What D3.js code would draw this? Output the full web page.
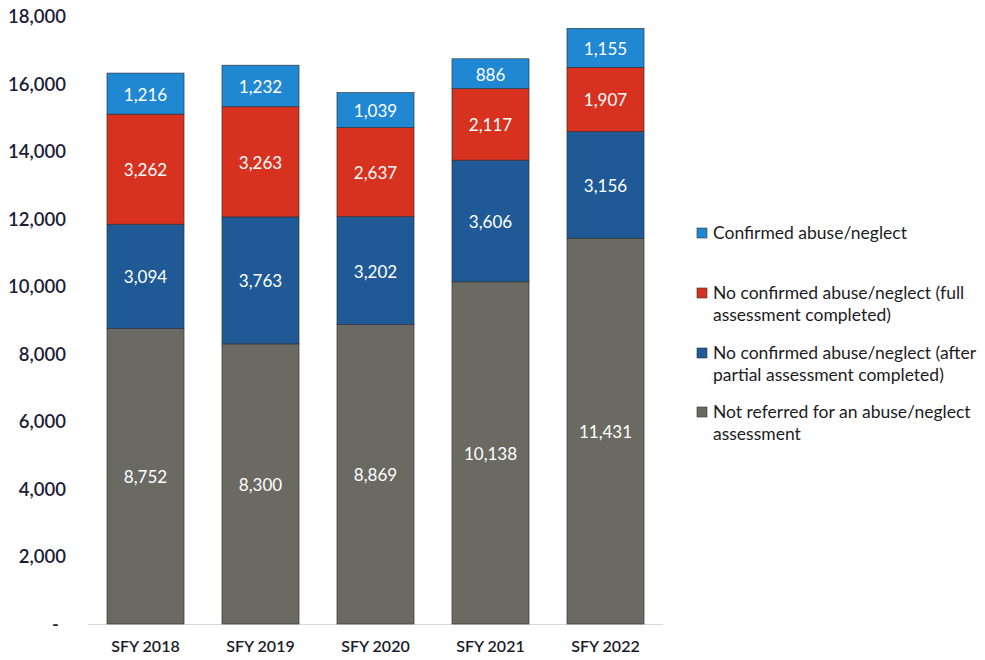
<!DOCTYPE html>
<html>
<head>
<meta charset="utf-8">
<script src="https://cdn.jsdelivr.net/npm/d3@7/dist/d3.min.js"></script>
<style>
  html, body { margin: 0; padding: 0; background: #fff; }
  svg { display: block; }
</style>
</head>
<body>
<svg id="chart" width="985" height="660"></svg>
<script>
const categories = ["SFY 2018", "SFY 2019", "SFY 2020", "SFY 2021", "SFY 2022"];
const seriesNames = [
  "Not referred for an abuse/neglect assessment",
  "No confirmed abuse/neglect (after partial assessment completed)",
  "No confirmed abuse/neglect (full assessment completed)",
  "Confirmed abuse/neglect"
];
const notReferred = [8752, 8300, 8869, 10138, 11431];
const partialAssessment = [3094, 3763, 3202, 3606, 3156];
const fullAssessment = [3262, 3263, 2637, 2117, 1907];
const confirmed = [1216, 1232, 1039, 886, 1155];
const yTicks = [0, 2000, 4000, 6000, 8000, 10000, 12000, 14000, 16000, 18000];

const legendLines = [
  ["Confirmed abuse/neglect"],
  ["No confirmed abuse/neglect (full", "assessment completed)"],
  ["No confirmed abuse/neglect (after", "partial assessment completed)"],
  ["Not referred for an abuse/neglect", "assessment"]
];

const colors = ["#6a6a62", "#1f5a96", "#d7321f", "#2088d2"];
const legendColors = ["#2088d2", "#d7321f", "#1f5a96", "#6a6a62"];

const valuesBySeries = [notReferred, partialAssessment, fullAssessment, confirmed];
const table = categories.map((c, i) => {
  const row = { cat: c };
  seriesNames.forEach((s, k) => row[s] = valuesBySeries[k][i]);
  return row;
});

const svg = d3.select("#chart");
const font = "Lato, 'Open Sans', sans-serif";

const x = d3.scaleBand().domain(categories).range([88, 663]).paddingInner(0.33).paddingOuter(0.165);
const y = d3.scaleLinear().domain([0, 18000]).range([624, 16.5]);

const stack = d3.stack().keys(seriesNames);
const stacked = stack(table);

// baseline
svg.append("line")
  .attr("x1", 88).attr("x2", 663)
  .attr("y1", y(0) + 0.5).attr("y2", y(0) + 0.5)
  .attr("stroke", "#d8d8d8").attr("stroke-width", 1);

// y axis
const yAxis = d3.axisLeft(y).tickValues(yTicks).tickSize(0).tickPadding(0)
  .tickFormat(d => d === 0 ? "-" : d3.format(",")(d));
const yg = svg.append("g").attr("transform", "translate(66,0)").call(yAxis);
yg.select(".domain").remove();
yg.selectAll("text")
  .attr("font-family", font).attr("font-size", 18.5).attr("font-weight", 600)
  .attr("fill", "#1c1c36").attr("dy", "0.35em")
  .attr("dx", d => d === 0 ? -7 : 0);

// x axis
const xAxis = d3.axisBottom(x).tickSize(0).tickPadding(0);
const xg = svg.append("g").attr("transform", "translate(0,640)").call(xAxis);
xg.select(".domain").remove();
xg.selectAll("text")
  .attr("font-family", font).attr("font-size", 16).attr("font-weight", 600)
  .attr("fill", "#1c1c2c").attr("dy", "0.75em");

// bars
const layers = svg.append("g").selectAll("g").data(stacked).join("g")
  .attr("fill", (d, i) => colors[i]);
layers.selectAll("rect").data(d => d).join("rect")
  .attr("x", d => x(d.data.cat))
  .attr("width", x.bandwidth())
  .attr("y", d => y(d[1]))
  .attr("height", d => y(d[0]) - y(d[1]))
  .attr("stroke", "#2a2a2a").attr("stroke-width", 0.6);

// labels
const lbl = svg.append("g");
stacked.forEach((layer, k) => {
  lbl.selectAll(null).data(layer).join("text")
    .attr("x", d => x(d.data.cat) + x.bandwidth() / 2)
    .attr("y", d => (y(d[0]) + y(d[1])) / 2 + 1)
    .attr("dy", "0.35em")
    .attr("text-anchor", "middle")
    .attr("font-family", font).attr("font-size", 17)
    .attr("fill", "#ffffff")
    .text(d => d3.format(",")(d[1] - d[0]));
});

// legend
const legendY = [233, 293, 353, 412];
const lg = svg.append("g");
legendLines.forEach((lines, i) => {
  lg.append("rect")
    .attr("x", 697).attr("y", legendY[i] - 5)
    .attr("width", 10).attr("height", 10)
    .attr("fill", legendColors[i]).attr("stroke", "#333").attr("stroke-width", 0.6);
  lines.forEach((t, j) => {
    lg.append("text")
      .attr("x", 713).attr("y", legendY[i] + j * 22)
      .attr("dy", "0.35em")
      .attr("font-family", font).attr("font-size", 17.5)
      .attr("fill", "#1c1c24")
      .text(t);
  });
});
</script>
</body>
</html>
